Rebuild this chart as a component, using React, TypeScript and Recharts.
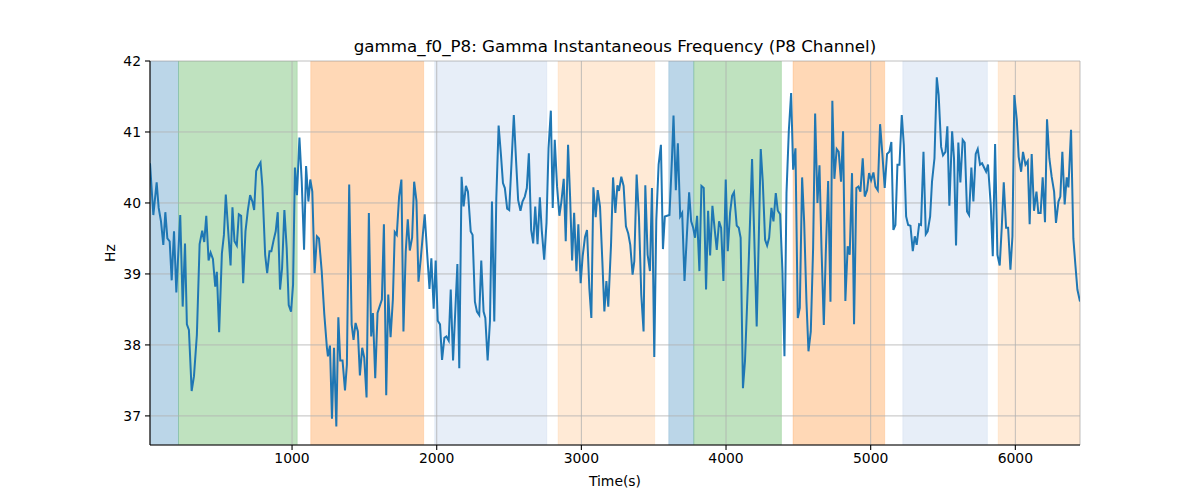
import { LineChart, Line, XAxis, YAxis, CartesianGrid, ReferenceArea } from 'recharts';

// time stamps (s) and instantaneous gamma frequency (Hz)
const times = [
  18, 41, 64, 78, 94, 110, 124, 138, 154, 168, 184, 200, 227, 244, 260, 273, 287, 306, 322, 342,
  361, 379, 393, 407, 423, 437, 453, 469, 480, 496, 515, 529, 542, 558, 575, 588, 602, 618, 632, 648,
  662, 678, 694, 710, 726, 738, 752, 768, 782, 795, 814, 828, 844, 857, 873, 887, 901, 917, 931, 947,
  963, 977, 993, 1007, 1020, 1034, 1051, 1067, 1083,
  1097, 1113, 1126, 1140, 1156, 1172, 1186, 1205, 1223, 1241, 1248, 1262, 1276, 1290, 1306, 1320, 1333, 1349, 1366, 1379,
  1395, 1412, 1425, 1439, 1455, 1469, 1485, 1499, 1515, 1531, 1547, 1559, 1575, 1591, 1605, 1621, 1635, 1651, 1665, 1681,
  1697, 1710, 1724, 1740, 1756, 1770, 1786, 1800, 1814, 1830, 1844, 1860, 1874, 1890, 1904, 1917, 1933, 1950, 1963, 1979,
  1993, 2007, 2023, 2037, 2053, 2067, 2083, 2097, 2113,
  2143, 2156, 2172, 2186, 2202, 2216, 2235, 2248, 2264, 2278, 2294, 2308, 2324, 2336, 2352, 2368, 2382, 2398, 2412, 2428,
  2444, 2458, 2471, 2487, 2501, 2517, 2533, 2549, 2563, 2579, 2593, 2609, 2623, 2637, 2653, 2667, 2681, 2697, 2713, 2726,
  2743, 2759, 2773, 2789, 2802, 2816, 2832, 2848, 2862, 2878, 2892, 2908, 2922, 2936, 2950, 2966, 2979, 2995, 3009, 3025,
  3039, 3055, 3069, 3083, 3099, 3113, 3129,
  3145, 3159, 3173, 3186, 3205, 3219, 3235, 3249, 3260, 3276, 3292, 3308, 3324, 3338, 3354, 3366, 3382, 3398, 3414, 3430,
  3442, 3458, 3474, 3488, 3504, 3518, 3534, 3550, 3564, 3577, 3593, 3609, 3626, 3637, 3653, 3667, 3683, 3697, 3713, 3729,
  3745, 3759, 3773, 3786, 3800, 3816, 3830, 3846, 3862, 3876, 3890, 3906, 3922, 3936, 3952, 3966, 3982, 3998, 4012, 4028,
  4042, 4055, 4074, 4088, 4101, 4117, 4131,
  4157, 4180, 4196, 4212, 4226, 4240, 4254, 4270, 4284, 4298, 4314, 4328, 4344, 4358, 4374, 4390, 4404, 4418, 4434, 4450,
  4464, 4480, 4496, 4510, 4526, 4540, 4556, 4570, 4586, 4602, 4616, 4632, 4646, 4660, 4676, 4690, 4706, 4722, 4735, 4749,
  4765, 4779, 4795, 4809, 4825, 4841, 4855, 4871, 4885, 4901, 4915, 4929, 4945, 4959, 4975, 4989, 5003, 5019, 5033, 5049,
  5065, 5081, 5097, 5113, 5129, 5143, 5157, 5171,
  5185, 5199, 5215, 5229, 5245, 5259, 5275, 5291, 5305, 5318, 5335, 5348, 5365, 5381, 5394, 5411, 5424, 5441, 5457, 5470,
  5487, 5500, 5517, 5530, 5544, 5563, 5576, 5590, 5606, 5620, 5636, 5650, 5666, 5680, 5696, 5710, 5726, 5740, 5756, 5770,
  5784, 5798, 5811, 5830, 5844, 5860, 5876, 5892, 5906, 5920, 5936, 5950, 5966, 5980, 5993, 6010, 6023, 6040, 6053, 6070,
  6086, 6099, 6113, 6129, 6146, 6159, 6175, 6189, 6205, 6219, 6235, 6251, 6268, 6281, 6298, 6311, 6325, 6341, 6355, 6367,
  6385, 6401, 6415, 6429, 6447,
];

const hz = [
  40.56, 39.83, 40.29, 39.93, 39.74, 39.41, 39.87, 39.5, 39.46, 38.91, 39.6, 38.74, 39.83, 38.54, 39.43, 38.29, 38.21, 37.35, 37.56, 38.14,
  39.42, 39.61, 39.45, 39.82, 39.19, 39.3, 39.21, 38.82, 39.03, 38.18, 39.29, 39.55, 40.12, 39.62, 39.12, 39.94, 39.46, 39.4, 39.84, 39.82,
  38.87, 39.6, 39.89, 40.11, 40.02, 39.9, 40.45, 40.52, 40.57, 40.23, 39.27, 39.01, 39.32, 39.32, 39.48, 39.6, 39.87, 38.78, 39.08, 39.9,
  39.36, 38.56, 38.47, 38.85, 40.5, 40.11, 40.92, 40.3, 39.34,
  40.52, 40.02, 40.33, 40.16, 39.01, 39.53, 39.5, 39.04, 38.43, 37.96, 37.84, 37.99, 36.96, 37.96, 36.85, 38.39, 37.78, 37.78, 37.36, 37.72,
  40.26, 38.29, 38.07, 38.31, 38.19, 37.57, 37.96, 37.82, 37.26, 39.86, 38.12, 38.45, 37.53, 38.45, 38.54, 38.64, 39.7, 37.29, 38.71, 38.11,
  38.64, 39.59, 39.55, 40.09, 40.33, 38.19, 39.32, 39.77, 39.33, 39.51, 40.3, 40.03, 38.89, 39.22, 39.55, 39.84, 39.32, 38.79, 39.22, 38.51,
  39.19, 38.34, 38.29, 37.79, 38.1, 38.12, 38.06, 38.78, 37.78,
  39.14, 37.67, 40.37, 39.95, 40.24, 40.16, 39.6, 39.55, 38.61, 38.47, 38.42, 39.19, 38.47, 38.38, 37.78, 38.33, 40.02, 38.33, 40.07, 41.09,
  40.68, 40.28, 40.21, 39.92, 39.9, 40.56, 41.24, 40.58, 40.04, 39.89, 40.02, 40.09, 40.21, 40.7, 39.62, 39.43, 39.95, 39.42, 40.08, 39.62,
  39.2, 39.72, 40.77, 41.3, 39.93, 40.89, 40.23, 39.82, 40.02, 40.34, 39.46, 40.82, 40.09, 39.19, 39.86, 39.04, 39.7, 38.87, 39.25, 39.52,
  39.62, 38.8, 38.38, 40.22, 39.8, 40.18, 39.95,
  39.18, 38.47, 38.9, 38.54, 39.41, 40.36, 39.86, 40.25, 40.17, 40.37, 40.24, 39.67, 39.57, 39.41, 38.99, 39.18, 40.4, 39.81, 38.71, 38.19,
  40.25, 39.27, 39.04, 40.21, 37.83, 39.76, 40.54, 40.82, 39.35, 39.81, 39.82, 39.83, 40.61, 41.23, 40.18, 40.84, 39.81, 39.86, 38.9, 39.53,
  40.15, 39.74, 39.65, 39.51, 39.82, 39.04, 40.24, 40.21, 38.78, 39.89, 39.26, 39.96, 39.62, 39.34, 39.74, 39.65, 38.9, 40.33, 39.32, 39.86,
  40.1, 40.15, 39.68, 39.65, 39.51, 37.39, 37.77,
  39.18, 40.62, 39.46, 38.26, 39.46, 40.76, 40.3, 39.48, 39.4, 39.51, 39.93, 39.74, 40.14, 39.89, 39.84, 39.04, 37.84, 40.14, 41.01, 41.55,
  40.47, 40.77, 38.38, 38.52, 40.36, 39.74, 38.61, 37.91, 38.19, 39.36, 41.26, 40.0, 40.53, 39.36, 38.28, 39.32, 40.31, 38.61, 41.44, 40.34,
  40.76, 40.72, 40.3, 41.01, 38.62, 39.39, 39.27, 40.42, 38.29, 40.21, 40.23, 40.16, 40.63, 40.09, 40.18, 40.42, 40.32, 40.43, 40.23, 40.18,
  41.11, 40.68, 40.21, 40.69, 40.72, 40.86, 39.62, 39.69,
  40.54, 40.54, 41.24, 40.82, 39.81, 39.69, 39.68, 39.32, 39.53, 39.41, 39.7, 39.69, 40.72, 39.56, 39.6, 39.81, 40.3, 40.63, 41.77, 41.52,
  40.79, 40.67, 40.72, 41.08, 39.96, 41.01, 40.63, 39.4, 40.85, 40.29, 40.89, 40.85, 39.88, 39.83, 40.5, 40.02, 40.69, 40.76, 40.54, 40.56,
  40.5, 40.44, 40.54, 39.97, 39.25, 40.83, 39.27, 39.12, 39.65, 40.29, 39.65, 39.65, 39.06, 39.53, 41.52, 41.17, 40.65, 40.44, 40.72, 40.54,
  40.59, 39.7, 40.69, 39.89, 40.16, 39.86, 39.86, 40.36, 39.73, 41.18, 40.63, 40.37, 40.16, 39.72, 40.02, 40.09, 40.72, 39.98, 40.36, 40.22,
  41.03, 39.5, 39.13, 38.78, 38.61,
];

// shaded segments (start, end in s) and which stage colour each one uses
const segStart = [18, 215, 1129, 1986, 2839, 3604, 3777, 4463, 5222, 5881];
const segEnd = [215, 1036, 1910, 2761, 3507, 3777, 4383, 5097, 5807, 6447];
const segKind = [0, 1, 2, 3, 4, 0, 1, 2, 3, 4];
const segColors = ['#1f77b4', '#2ca02c', '#ff7f0e', '#aec7e8', '#ffbb78'];

const xTicks = [1000, 2000, 3000, 4000, 5000, 6000];
const yTicks = [37, 38, 39, 40, 41, 42];

const data = times.map((t, i) => ({ t, hz: hz[i] }));

const font = 'DejaVu Sans, sans-serif';
const tickStyle = { fontSize: 13.9, fill: '#000', fontFamily: font };

export default function App() {
  return (
    <div style={{ position: 'absolute', left: 0, top: 0, width: 1200, height: 500, background: '#fff' }}>
      <div
        style={{
          position: 'absolute', left: 150, top: 35, width: 930, height: 22, lineHeight: '22px',
          textAlign: 'center', fontFamily: font, fontSize: 16.7, color: '#000',
        }}
      >
        gamma_f0_P8: Gamma Instantaneous Frequency (P8 Channel)
      </div>
      <LineChart width={1200} height={500} data={data} margin={{ top: 61, right: 120, bottom: 10, left: 70 }}>
        {segStart.map((s, i) => (
          <ReferenceArea
            key={i}
            x1={s}
            x2={segEnd[i]}
            fill={segColors[segKind[i]]}
            fillOpacity={0.3}
            stroke={segColors[segKind[i]]}
            strokeOpacity={0.18}
            ifOverflow="hidden"
            zIndex={-200}
          />
        ))}
        <CartesianGrid stroke="#b0b0b0" strokeWidth={0.8} />
        <XAxis
          dataKey="t"
          type="number"
          domain={[18, 6447]}
          allowDataOverflow
          ticks={xTicks}
          tick={tickStyle}
          tickSize={5}
          tickMargin={3}
          height={45}
          stroke="#000"
          tickLine={{ stroke: '#000', strokeWidth: 1.1 }}
          axisLine={{ stroke: '#000', strokeWidth: 1.1 }}
          label={{ value: 'Time(s)', position: 'insideBottom', offset: 4, style: { fontSize: 13.9, fill: '#000', fontFamily: font } }}
        />
        <XAxis xAxisId="top" orientation="top" type="number" domain={[18, 6447]} height={0} tick={false} tickLine={false} axisLine={{ stroke: '#000', strokeWidth: 1.1 }} />
        <YAxis
          type="number"
          domain={[36.59, 42]}
          allowDataOverflow
          ticks={yTicks}
          tick={tickStyle}
          tickSize={5}
          tickMargin={4}
          width={80}
          tickLine={{ stroke: '#000', strokeWidth: 1.1 }}
          axisLine={{ stroke: '#000', strokeWidth: 1.1 }}
          label={{ value: 'Hz', angle: -90, position: 'center', style: { fontSize: 13.9, fill: '#000', fontFamily: font } }}
        />
        <YAxis yAxisId="right" orientation="right" domain={[36.59, 42]} width={0} tick={false} tickLine={false} axisLine={{ stroke: '#000', strokeWidth: 1.1 }} />
        <Line dataKey="hz" type="linear" stroke="#1f77b4" strokeWidth={2} dot={false} isAnimationActive={false} />
      </LineChart>
    </div>
  );
}
